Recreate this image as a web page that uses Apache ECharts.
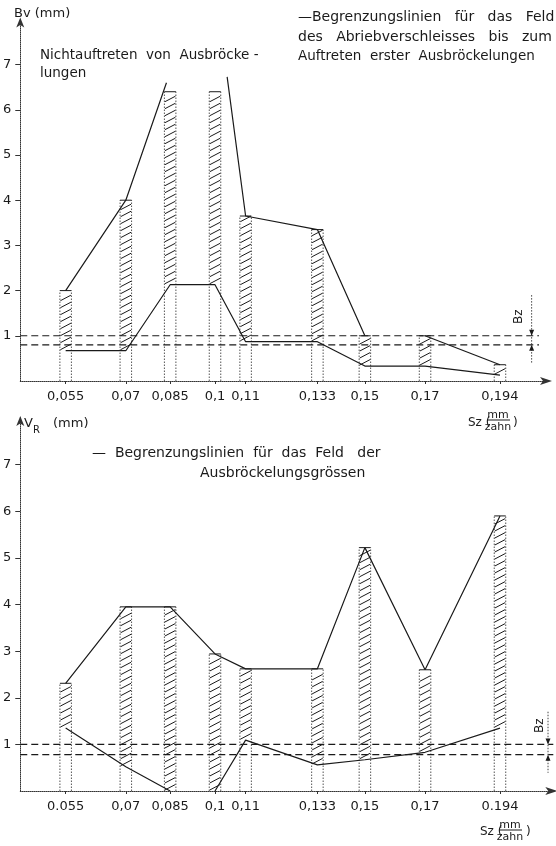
<!DOCTYPE html>
<html><head><meta charset="utf-8">
<script src="https://cdn.jsdelivr.net/npm/echarts@6/dist/echarts.min.js"></script>
<style>html,body{margin:0;padding:0;background:#fff}#c{width:556px;height:846px}</style>
</head><body><div id="c"></div>
<script>
// ---- data ----
const szTop    = ['0,055','0,07','0,085','0,1','0,11','0,133','0,15','0,17','0,194'];
const szBottom = ['0.055','0,07','0,085','0,1','0,11','0,133','0,15','0,17','0.194'];
// category locations along the (non-linear) Sz axis of the drawing, axis units
const szPos = [8.6, 20.0, 28.4, 36.9, 42.7, 56.3, 65.3, 76.7, 90.9];
const yTicks = [1, 2, 3, 4, 5, 6, 7];

// top chart: Bv (mm)
const bvHigh = [2.0, 4.0, 6.4, 6.4, 3.65, 3.35, 1.0, 1.0, 0.36];
const bvLow  = [0.67, 0.67, 2.13, 2.13, 0.87, 0.87, 0.33, 0.33, 0.13];
const bvPeakEnds = [[27.7, 6.6], [39.2, 6.73]]; // upper line leaves the drawing here
const bvBand = [1.0, 0.8];

// bottom chart: VR (mm)
const vrHigh = [2.31, 3.95, 3.95, 2.94, 2.62, 2.62, 5.22, 2.6, 5.9];
const vrLow  = [1.35, 0.52, 0.0, 0.0, 1.09, 0.56, 0.67, 0.83, 1.35];
const vrLowLine1 = [1.35, 0.52, 0.0];          // 0.055 .. 0.085
const vrLowLine2 = [0.0, 1.09, 0.56, 0.67, 0.83, 1.35]; // 0.1 .. 0.194
const vrBand = [1.0, 0.78];

// ---- helpers ----
const INK = '#1a1a1a';
const FONT = '"DejaVu Sans", sans-serif';
const BAR_W = 11.5, STEP = 7, RISE = 5.5;

function pts(idx, vals) { return idx.map((i, k) => [szPos[i], vals[k]]); }

function renderHatch(params, api) {
  const x = api.value(0), lo = api.value(1), hi = api.value(2);
  const top = api.coord([x, hi]), low = api.coord([x, lo]), base = api.coord([x, 0]);
  const xl = top[0] - BAR_W / 2, xr = top[0] + BAR_W / 2;
  const dotted = {stroke: '#555', lineWidth: 1, lineDash: [1.5, 1.5]};
  const ch = [
    {type: 'line', shape: {x1: xl, y1: base[1], x2: xl, y2: top[1]}, style: dotted},
    {type: 'line', shape: {x1: xr, y1: base[1], x2: xr, y2: top[1]}, style: dotted},
    {type: 'line', shape: {x1: xl, y1: top[1], x2: xr, y2: top[1]}, style: {stroke: INK, lineWidth: 1}}
  ];
  for (let y = low[1] - 1; y - RISE >= top[1] - 0.5; y -= STEP) {
    ch.push({type: 'line', shape: {x1: xl + 0.5, y1: y, x2: xr - 0.5, y2: y - RISE},
             style: {stroke: INK, lineWidth: 1}});
  }
  return {type: 'group', children: ch};
}

function renderBz(params, api) {
  const xl = api.value(0), y1 = api.value(1), y2 = api.value(2), up = api.value(3), lo = api.value(4), xt = api.value(5), yt = api.value(6);
  const a = api.coord([xl, y1]), b = api.coord([xl, y2]);
  const pu = api.coord([xl, up]), pl = api.coord([xl, lo]);
  const t = api.coord([xt, yt]);
  return {type: 'group', children: [
    {type: 'line', shape: {x1: a[0], y1: a[1], x2: b[0], y2: b[1]}, style: {stroke: '#444', lineWidth: 1, lineDash: [1.5, 1.5]}},
    {type: 'polygon', shape: {points: [[pu[0], pu[1]], [pu[0] - 2.5, pu[1] - 6], [pu[0] + 2.5, pu[1] - 6]]}, style: {fill: INK}},
    {type: 'polygon', shape: {points: [[pl[0], pl[1]], [pl[0] - 2.5, pl[1] + 6], [pl[0] + 2.5, pl[1] + 6]]}, style: {fill: INK}},
    {type: 'text', x: t[0], y: t[1], rotation: Math.PI / 2,
     style: {text: 'Bz', font: '12px ' + FONT, fill: INK, align: 'center', verticalAlign: 'middle'}}
  ]};
}

function xAxis(gi, max, labels) {
  return {
    type: 'value', gridIndex: gi, min: 0, max: max,
    axisLine: {show: true, symbol: ['none', 'arrow'], symbolSize: [6, 12], symbolOffset: [0, 4],
               lineStyle: {color: '#333', width: 1, type: 'dotted'}},
    axisTick: {show: true, customValues: szPos, length: 3, lineStyle: {color: '#333'}},
    axisLabel: {show: true, customValues: szPos, margin: 9, color: INK, fontFamily: FONT, fontSize: 13,
                formatter: v => { const i = szPos.indexOf(v); return i >= 0 ? labels[i] : ''; }},
    splitLine: {show: false}
  };
}
function yAxis(gi) {
  return {
    type: 'value', gridIndex: gi, min: 0, max: 8,
    axisLine: {show: true, symbol: ['none', 'arrow'], symbolSize: [6, 10], symbolOffset: [0, 2],
               lineStyle: {color: '#333', width: 1, type: 'dotted'}},
    axisTick: {show: true, customValues: yTicks, length: 5, lineStyle: {color: '#333'}},
    axisLabel: {show: true, customValues: yTicks, margin: 9, color: INK, fontFamily: FONT, fontSize: 13},
    splitLine: {show: false}
  };
}
function line(gi, data, dashed) {
  return {type: 'line', xAxisIndex: gi, yAxisIndex: gi, data: data, showSymbol: false, silent: true,
          lineStyle: {color: INK, width: dashed ? 1.1 : 1.2, type: dashed ? [7, 4] : 'solid'}, z: 3};
}
function txt(text, x, y, size, align) {
  return {type: 'text', x: x, y: y, style: {text: text, font: (size || 13) + 'px ' + FONT, fill: INK,
          align: align || 'left', verticalAlign: 'middle'}};
}

const all = [0, 1, 2, 3, 4, 5, 6, 7, 8];
const option = {
  animation: false,
  backgroundColor: '#fff',
  grid: [
    {left: 17, top: 19.4, width: 531, height: 361.6},
    {left: 17, top: 418, width: 536.3, height: 373}
  ],
  xAxis: [xAxis(0, 100, szTop), xAxis(1, 101, szBottom)],
  yAxis: [yAxis(0), yAxis(1)],
  series: [
    {type: 'custom', xAxisIndex: 0, yAxisIndex: 0, renderItem: renderHatch, silent: true,
     encode: {x: 0, y: [1, 2]}, data: all.map(i => [szPos[i], bvLow[i], bvHigh[i]])},
    line(0, pts([0, 1], [bvHigh[0], bvHigh[1]]).concat([bvPeakEnds[0]])),
    line(0, [bvPeakEnds[1]].concat(pts([4, 5, 6], [bvHigh[4], bvHigh[5], bvHigh[6]]))),
    line(0, pts([7, 8], [bvHigh[7], bvHigh[8]])),
    line(0, pts(all, bvLow)),
    line(0, [[0, bvBand[0]], [98.3, bvBand[0]]], true),
    line(0, [[0, bvBand[1]], [98.3, bvBand[1]]], true),
    {type: 'custom', xAxisIndex: 0, yAxisIndex: 0, renderItem: renderBz, silent: true,
     data: [[96.9, 1.9, 0.4, bvBand[0], bvBand[1], 94.4, 1.42]]},

    {type: 'custom', xAxisIndex: 1, yAxisIndex: 1, renderItem: renderHatch, silent: true,
     encode: {x: 0, y: [1, 2]}, data: all.map(i => [szPos[i], vrLow[i], vrHigh[i]])},
    line(1, pts(all, vrHigh)),
    line(1, pts([0, 1, 2], vrLowLine1)),
    line(1, pts([3, 4, 5, 6, 7, 8], vrLowLine2)),
    line(1, [[0, vrBand[0]], [101, vrBand[0]]], true),
    line(1, [[0, vrBand[1]], [101, vrBand[1]]], true),
    {type: 'custom', xAxisIndex: 1, yAxisIndex: 1, renderItem: renderBz, silent: true,
     data: [[100, 1.7, 0.39, vrBand[0], vrBand[1], 98.5, 1.4]]}
  ],
  graphic: [
    txt('Bv (mm)', 14, 14),
    txt('Nichtauftreten  von  Ausbröcke -', 40, 55, 13.5),
    txt('lungen', 40, 73, 13.5),
    txt('—Begrenzungslinien   für   das   Feld', 298, 17, 14),
    txt('des   Abriebverschleisses   bis   zum', 298, 37, 14),
    txt('Auftreten  erster  Ausbröckelungen', 298, 56, 13.5),
    // Sz (mm/zahn) top
    txt('Sz (', 468, 423, 12),
    txt('mm', 498, 415, 11, 'center'),
    {type: 'line', shape: {x1: 487, y1: 420, x2: 510, y2: 420}, style: {stroke: INK, lineWidth: 1}},
    txt('zahn', 498, 427, 11, 'center'),
    txt(')', 513, 423, 12),
    // bottom
    txt('V', 24, 424),
    txt('R', 33, 430, 10),
    txt('(mm)', 53, 424),
    txt('—  Begrenzungslinien  für  das  Feld   der', 92, 453, 14),
    txt('Ausbröckelungsgrössen', 200, 473, 14),
    txt('Sz (', 480, 832, 12),
    txt('mm', 510, 825, 11, 'center'),
    {type: 'line', shape: {x1: 499, y1: 830, x2: 522, y2: 830}, style: {stroke: INK, lineWidth: 1}},
    txt('zahn', 510, 837, 11, 'center'),
    txt(')', 526, 832, 12)
  ]
};
echarts.init(document.getElementById('c'), null, {renderer: 'canvas'}).setOption(option);
</script></body></html>
